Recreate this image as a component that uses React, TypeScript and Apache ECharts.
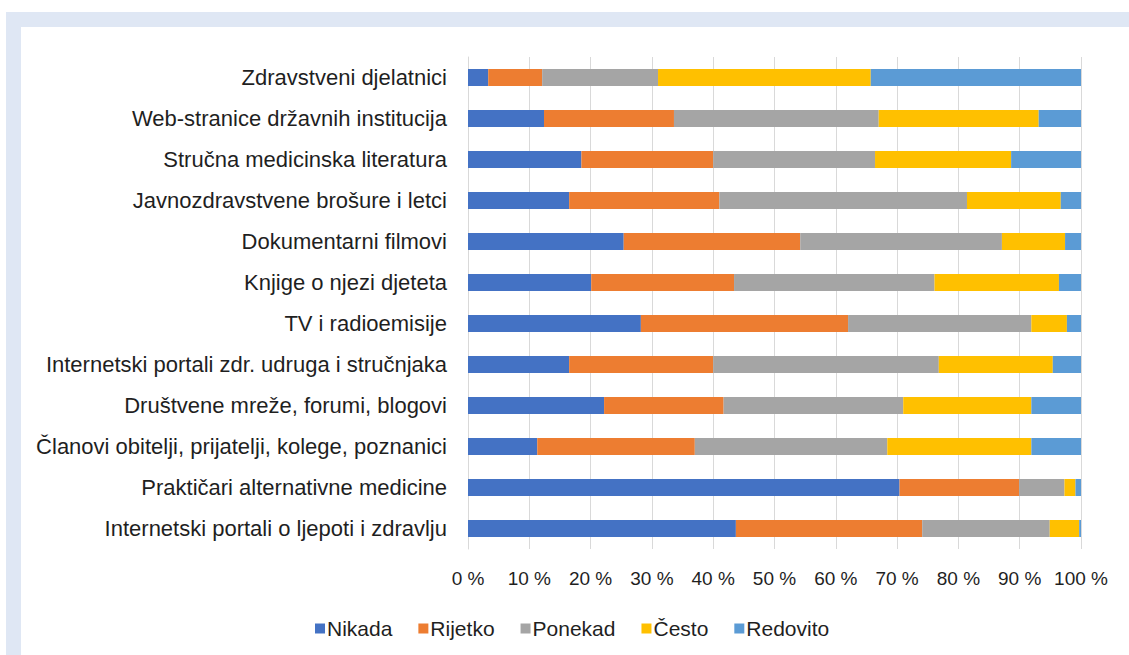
import React, { useEffect, useRef } from "react";
import * as echarts from "echarts";

const categories = [
  "Zdravstveni djelatnici",
  "Web-stranice državnih institucija",
  "Stručna medicinska literatura",
  "Javnozdravstvene brošure i letci",
  "Dokumentarni filmovi",
  "Knjige o njezi djeteta",
  "TV i radioemisije",
  "Internetski portali zdr. udruga i stručnjaka",
  "Društvene mreže, forumi, blogovi",
  "Članovi obitelji, prijatelji, kolege, poznanici",
  "Praktičari alternativne medicine",
  "Internetski portali o ljepoti i zdravlju",
];

const nikada = [3.3, 12.4, 18.5, 16.5, 25.4, 20.1, 28.2, 16.5, 22.2, 11.3, 70.4, 43.7];
const rijetko = [8.8, 21.2, 21.5, 24.5, 28.8, 23.3, 33.8, 23.5, 19.5, 25.7, 19.5, 30.4];
const ponekad = [18.9, 33.4, 26.4, 40.4, 32.9, 32.7, 29.9, 36.8, 29.3, 31.4, 7.4, 20.8];
const cesto = [34.7, 26.1, 22.2, 15.3, 10.3, 20.3, 5.8, 18.6, 20.9, 23.5, 1.8, 4.8];
const redovito = [34.3, 6.9, 11.4, 3.3, 2.6, 3.6, 2.3, 4.6, 8.1, 8.1, 0.9, 0.3];

const seriesNames = ["Nikada", "Rijetko", "Ponekad", "Često", "Redovito"];
const seriesColors = ["#4472C4", "#ED7D31", "#A5A5A5", "#FFC000", "#5B9BD5"];
const seriesData = [nikada, rijetko, ponekad, cesto, redovito];

const FONT = "'Liberation Sans', Arial, Helvetica, sans-serif";

export default function App() {
  const ref = useRef<HTMLDivElement>(null);

  useEffect(() => {
    document.body.style.margin = "0";
    if (!ref.current) return;
    const chart = echarts.init(ref.current, undefined, { renderer: "svg" });
    chart.setOption({
      animation: false,
      backgroundColor: "#ffffff",
      textStyle: { fontFamily: FONT },
      graphic: [
        {
          type: "rect",
          z: -10,
          silent: true,
          shape: { x: 6, y: 12, width: 1123, height: 15 },
          style: { fill: "#dfe7f4" },
        },
        {
          type: "rect",
          z: -10,
          silent: true,
          shape: { x: 6, y: 12, width: 15, height: 643 },
          style: { fill: "#dfe7f4" },
        },
      ],
      grid: { left: 468, right: 48, top: 57, bottom: 106, containLabel: false },
      legend: {
        left: 310,
        top: 613,
        icon: "rect",
        itemWidth: 10,
        itemHeight: 10,
        itemGap: 26,
        data: seriesNames,
        textStyle: { fontSize: 21, color: "#1f1f1f", fontFamily: FONT, padding: [0, 0, 0, -3] },
      },
      xAxis: {
        type: "value",
        min: 0,
        max: 100,
        interval: 10,
        axisLine: { show: false },
        axisTick: { show: false },
        splitLine: { show: true, lineStyle: { color: "#d9d9d9", width: 1 } },
        axisLabel: {
          formatter: "{value} %",
          fontSize: 19,
          color: "#1f1f1f",
          margin: 20,
          fontFamily: FONT,
        },
      },
      yAxis: {
        type: "category",
        inverse: true,
        data: categories,
        axisLine: { show: true, lineStyle: { color: "#d9d9d9" } },
        axisTick: { show: false },
        axisLabel: { fontSize: 22, color: "#1f1f1f", margin: 21, fontFamily: FONT },
      },
      series: seriesNames.map((name, i) => ({
        name,
        type: "bar",
        stack: "total",
        barWidth: 17,
        itemStyle: { color: seriesColors[i] },
        data: seriesData[i],
      })),
    });
    return () => chart.dispose();
  }, []);

  return <div ref={ref} style={{ width: 1129, height: 655 }} />;
}
